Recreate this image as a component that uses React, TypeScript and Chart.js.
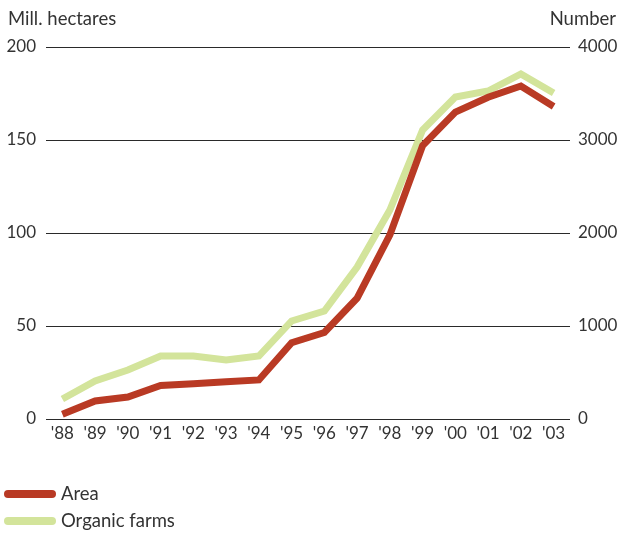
import React, { useEffect, useRef } from "react";
import { Chart, registerables } from "chart.js";

Chart.register(...registerables);

const years = ["'88", "'89", "'90", "'91", "'92", "'93", "'94", "'95", "'96", "'97", "'98", "'99", "'00", "'01", "'02", "'03"];
const areaMillHectares = [2.5, 9.7, 11.8, 18, 19, 20, 21, 41, 46.5, 65, 99, 147, 165, 173, 179, 168];
const organicFarms = [215, 409, 527, 677, 677, 634, 677, 1054, 1161, 1634, 2247, 3108, 3462, 3527, 3710, 3505];
const leftTicks = [0, 50, 100, 150, 200];
const rightTicks = [0, 1000, 2000, 3000, 4000];

const RED = "#b93a24";
const GREEN = "#d3e49b";
const TEXT = "#333333";
const FONT = "Lato, 'Open Sans', sans-serif";

const overlay = {
  id: "overlay",
  afterDraw(chart: any) {
    const ctx = chart.ctx;
    ctx.save();
    ctx.fillStyle = TEXT;
    ctx.font = `18.5px ${FONT}`;
    ctx.textBaseline = "alphabetic";
    ctx.textAlign = "left";
    ctx.fillText("Mill. hectares", 8, 25);
    ctx.textAlign = "right";
    ctx.fillText("Number", 616, 25);
    const items = [
      { label: "Area", color: RED, y: 494 },
      { label: "Organic farms", color: GREEN, y: 521 },
    ];
    items.forEach((it) => {
      ctx.strokeStyle = it.color;
      ctx.lineWidth = 8;
      ctx.lineCap = "round";
      ctx.beginPath();
      ctx.moveTo(8, it.y);
      ctx.lineTo(52, it.y);
      ctx.stroke();
      ctx.fillStyle = TEXT;
      ctx.textAlign = "left";
      ctx.textBaseline = "middle";
      ctx.fillText(it.label, 61, it.y);
    });
    ctx.restore();
  },
};

export default function App() {
  const ref = useRef<HTMLCanvasElement>(null);
  useEffect(() => {
    if (!ref.current) return;
    const chart = new Chart(ref.current, {
      type: "line",
      data: {
        labels: years,
        datasets: [
          {
            label: "Area",
            data: areaMillHectares,
            yAxisID: "y",
            borderColor: RED,
            borderWidth: 7,
            pointRadius: 0,
            tension: 0,
            order: 0,
          },
          {
            label: "Organic farms",
            data: organicFarms,
            yAxisID: "y1",
            borderColor: GREEN,
            borderWidth: 7,
            pointRadius: 0,
            tension: 0,
            order: 1,
          },
        ],
      },
      options: {
        animation: false,
        responsive: false,
        layout: { padding: { top: 47, bottom: 85, left: 0, right: 0 } },
        plugins: { legend: { display: false }, tooltip: { enabled: false } },
        scales: {
          x: {
            offset: true,
            grid: { display: false, drawTicks: false },
            border: { display: false },
            ticks: { color: TEXT, font: { family: FONT, size: 17 }, padding: 4, maxRotation: 0, autoSkip: false },
            afterFit: (s: any) => { s.height = 30; },
          },
          y: {
            position: "left",
            min: 0,
            max: 200,
            afterBuildTicks: (s: any) => { s.ticks = leftTicks.map((v) => ({ value: v })); },
            grid: { color: "#2a2a2a", lineWidth: 1, drawTicks: false },
            border: { display: false },
            ticks: { color: TEXT, font: { family: FONT, size: 17 }, padding: 10, callback: (v: any) => String(v) },
            afterFit: (s: any) => { s.width = 46; },
          },
          y1: {
            position: "right",
            min: 0,
            max: 4000,
            afterBuildTicks: (s: any) => { s.ticks = rightTicks.map((v) => ({ value: v })); },
            grid: { display: false, drawTicks: false },
            border: { display: false },
            ticks: { color: TEXT, font: { family: FONT, size: 17 }, padding: 8, callback: (v: any) => String(v) },
            afterFit: (s: any) => { s.width = 53; },
          },
        },
      },
      plugins: [overlay],
    });
    return () => chart.destroy();
  }, []);
  return (
    <div style={{ position: "fixed", left: 0, top: 0, width: 623, height: 534, background: "#fff" }}>
      <canvas ref={ref} width={623} height={534} style={{ width: 623, height: 534 }} />
    </div>
  );
}
